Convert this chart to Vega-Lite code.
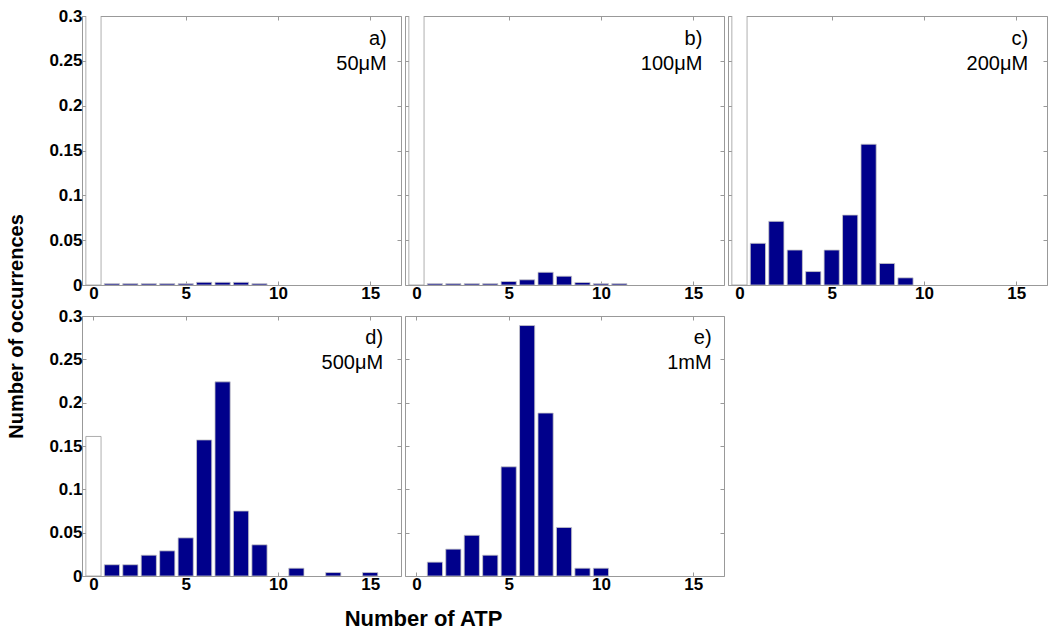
{
  "$schema": "https://vega.github.io/schema/vega-lite/v6.json",
  "background": "white",
  "padding": {"left": 5, "top": 6, "right": 2, "bottom": 5},
  "datasets": {
    "hist": [
      {"panel": "a", "atp": 0, "frac": 0.99},
      {"panel": "a", "atp": 1, "frac": 0.0015},
      {"panel": "a", "atp": 2, "frac": 0.0015},
      {"panel": "a", "atp": 3, "frac": 0.0015},
      {"panel": "a", "atp": 4, "frac": 0.0015},
      {"panel": "a", "atp": 5, "frac": 0.0015},
      {"panel": "a", "atp": 6, "frac": 0.003},
      {"panel": "a", "atp": 7, "frac": 0.003},
      {"panel": "a", "atp": 8, "frac": 0.003},
      {"panel": "a", "atp": 9, "frac": 0.0015},
      {"panel": "b", "atp": 0, "frac": 0.96},
      {"panel": "b", "atp": 1, "frac": 0.0015},
      {"panel": "b", "atp": 2, "frac": 0.0015},
      {"panel": "b", "atp": 3, "frac": 0.0015},
      {"panel": "b", "atp": 4, "frac": 0.0015},
      {"panel": "b", "atp": 5, "frac": 0.0039},
      {"panel": "b", "atp": 6, "frac": 0.0058},
      {"panel": "b", "atp": 7, "frac": 0.0142},
      {"panel": "b", "atp": 8, "frac": 0.0098},
      {"panel": "b", "atp": 9, "frac": 0.0028},
      {"panel": "b", "atp": 10, "frac": 0.0015},
      {"panel": "b", "atp": 11, "frac": 0.0015},
      {"panel": "c", "atp": 0, "frac": 0.51},
      {"panel": "c", "atp": 1, "frac": 0.0465},
      {"panel": "c", "atp": 2, "frac": 0.071},
      {"panel": "c", "atp": 3, "frac": 0.039},
      {"panel": "c", "atp": 4, "frac": 0.015},
      {"panel": "c", "atp": 5, "frac": 0.039},
      {"panel": "c", "atp": 6, "frac": 0.078},
      {"panel": "c", "atp": 7, "frac": 0.157},
      {"panel": "c", "atp": 8, "frac": 0.024},
      {"panel": "c", "atp": 9, "frac": 0.008},
      {"panel": "d", "atp": 0, "frac": 0.161},
      {"panel": "d", "atp": 1, "frac": 0.013},
      {"panel": "d", "atp": 2, "frac": 0.013},
      {"panel": "d", "atp": 3, "frac": 0.024},
      {"panel": "d", "atp": 4, "frac": 0.029},
      {"panel": "d", "atp": 5, "frac": 0.044},
      {"panel": "d", "atp": 6, "frac": 0.157},
      {"panel": "d", "atp": 7, "frac": 0.224},
      {"panel": "d", "atp": 8, "frac": 0.075},
      {"panel": "d", "atp": 9, "frac": 0.036},
      {"panel": "d", "atp": 11, "frac": 0.009},
      {"panel": "d", "atp": 13, "frac": 0.004},
      {"panel": "d", "atp": 15, "frac": 0.004},
      {"panel": "e", "atp": 1, "frac": 0.016},
      {"panel": "e", "atp": 2, "frac": 0.031},
      {"panel": "e", "atp": 3, "frac": 0.047},
      {"panel": "e", "atp": 4, "frac": 0.024},
      {"panel": "e", "atp": 5, "frac": 0.126},
      {"panel": "e", "atp": 6, "frac": 0.289},
      {"panel": "e", "atp": 7, "frac": 0.188},
      {"panel": "e", "atp": 8, "frac": 0.056},
      {"panel": "e", "atp": 9, "frac": 0.009},
      {"panel": "e", "atp": 10, "frac": 0.009}
    ],
    "labels": [
      {"panel": "a", "label": "a)\n50μM"},
      {"panel": "b", "label": "b)\n100μM"},
      {"panel": "c", "label": "c)\n200μM"},
      {"panel": "d", "label": "d)\n500μM"},
      {"panel": "e", "label": "e)\n1mM"}
    ]
  },
  "columns": 3,
  "spacing": {"row": 31, "column": 4},
  "bounds": "flush",
  "concat": [
    {
      "width": 319, "height": 269,
      "layer": [
        {
          "data": {"name": "hist"},
          "transform": [{"filter": "datum.panel === 'a'"}],
          "mark": {"type": "bar", "width": 15.2, "clip": true, "strokeWidth": 0.8},
          "encoding": {
            "x": {"field": "atp", "type": "quantitative", "scale": {"domain": [-0.35, 16.4], "nice": false, "zero": false}, "axis": {"orient": "bottom", "values": [0, 5, 10, 15], "title": null}},
            "y": {"field": "frac", "type": "quantitative", "scale": {"domain": [0, 0.3], "nice": false}, "axis": {"orient": "left", "values": [0, 0.05, 0.1, 0.15, 0.2, 0.25, 0.3], "format": "~g", "title": "Number of occurrences", "titleFontSize": 20, "titleX": -60, "titleY": 310, "titleAngle": -90, "titleAlign": "center", "titleBaseline": "alphabetic"}},
            "color": {"condition": {"test": "datum.atp === 0", "value": "white"}, "value": "#00008b"},
            "stroke": {"condition": {"test": "datum.atp === 0", "value": "#999999"}, "value": "#c8c8c8"}
          }
        },
        {
          "data": {"name": "labels"},
          "transform": [{"filter": "datum.panel === 'a'"}],
          "mark": {"type": "text", "align": "right", "baseline": "top", "lineBreak": "\n", "fontSize": 20, "lineHeight": 25, "font": "Liberation Sans", "color": "black"},
          "encoding": {
            "x": {"datum": 15.9, "type": "quantitative", "axis": {"orient": "top", "values": [0, 5, 10, 15], "labels": false, "title": null}},
            "y": {"datum": 0.286, "type": "quantitative", "axis": {"orient": "right", "values": [0, 0.05, 0.1, 0.15, 0.2, 0.25, 0.3], "labels": false, "title": null}},
            "text": {"field": "label"}
          }
        }
      ],
      "resolve": {"axis": {"x": "independent", "y": "independent"}}
    },
    {
      "width": 319, "height": 269,
      "layer": [
        {
          "data": {"name": "hist"},
          "transform": [{"filter": "datum.panel === 'b'"}],
          "mark": {"type": "bar", "width": 15.2, "clip": true, "strokeWidth": 0.8},
          "encoding": {
            "x": {"field": "atp", "type": "quantitative", "scale": {"domain": [-0.35, 16.4], "nice": false, "zero": false}, "axis": {"orient": "bottom", "values": [0, 5, 10, 15], "title": null}},
            "y": {"field": "frac", "type": "quantitative", "scale": {"domain": [0, 0.3], "nice": false}, "axis": {"orient": "left", "values": [0, 0.05, 0.1, 0.15, 0.2, 0.25, 0.3], "labels": false, "title": null}},
            "color": {"condition": {"test": "datum.atp === 0", "value": "white"}, "value": "#00008b"},
            "stroke": {"condition": {"test": "datum.atp === 0", "value": "#999999"}, "value": "#c8c8c8"}
          }
        },
        {
          "data": {"name": "labels"},
          "transform": [{"filter": "datum.panel === 'b'"}],
          "mark": {"type": "text", "align": "right", "baseline": "top", "lineBreak": "\n", "fontSize": 20, "lineHeight": 25, "font": "Liberation Sans", "color": "black"},
          "encoding": {
            "x": {"datum": 15.5, "type": "quantitative", "axis": {"orient": "top", "values": [0, 5, 10, 15], "labels": false, "title": null}},
            "y": {"datum": 0.286, "type": "quantitative", "axis": {"orient": "right", "values": [0, 0.05, 0.1, 0.15, 0.2, 0.25, 0.3], "labels": false, "title": null}},
            "text": {"field": "label"}
          }
        }
      ],
      "resolve": {"axis": {"x": "independent", "y": "independent"}}
    },
    {
      "width": 319, "height": 269,
      "layer": [
        {
          "data": {"name": "hist"},
          "transform": [{"filter": "datum.panel === 'c'"}],
          "mark": {"type": "bar", "width": 15.2, "clip": true, "strokeWidth": 0.8},
          "encoding": {
            "x": {"field": "atp", "type": "quantitative", "scale": {"domain": [-0.35, 16.4], "nice": false, "zero": false}, "axis": {"orient": "bottom", "values": [0, 5, 10, 15], "title": null}},
            "y": {"field": "frac", "type": "quantitative", "scale": {"domain": [0, 0.3], "nice": false}, "axis": {"orient": "left", "values": [0, 0.05, 0.1, 0.15, 0.2, 0.25, 0.3], "labels": false, "title": null}},
            "color": {"condition": {"test": "datum.atp === 0", "value": "white"}, "value": "#00008b"},
            "stroke": {"condition": {"test": "datum.atp === 0", "value": "#999999"}, "value": "#c8c8c8"}
          }
        },
        {
          "data": {"name": "labels"},
          "transform": [{"filter": "datum.panel === 'c'"}],
          "mark": {"type": "text", "align": "right", "baseline": "top", "lineBreak": "\n", "fontSize": 20, "lineHeight": 25, "font": "Liberation Sans", "color": "black"},
          "encoding": {
            "x": {"datum": 15.65, "type": "quantitative", "axis": {"orient": "top", "values": [0, 5, 10, 15], "labels": false, "title": null}},
            "y": {"datum": 0.286, "type": "quantitative", "axis": {"orient": "right", "values": [0, 0.05, 0.1, 0.15, 0.2, 0.25, 0.3], "labels": false, "title": null}},
            "text": {"field": "label"}
          }
        }
      ],
      "resolve": {"axis": {"x": "independent", "y": "independent"}}
    },
    {
      "width": 319, "height": 260,
      "layer": [
        {
          "data": {"name": "hist"},
          "transform": [{"filter": "datum.panel === 'd'"}],
          "mark": {"type": "bar", "width": 15.2, "clip": true, "strokeWidth": 0.8},
          "encoding": {
            "x": {"field": "atp", "type": "quantitative", "scale": {"domain": [-0.35, 16.4], "nice": false, "zero": false}, "axis": {"orient": "bottom", "values": [0, 5, 10, 15], "title": "Number of ATP", "titleFontSize": 22, "titleX": 341, "titleY": 49, "titleAlign": "center", "titleBaseline": "alphabetic"}},
            "y": {"field": "frac", "type": "quantitative", "scale": {"domain": [0, 0.3], "nice": false}, "axis": {"orient": "left", "values": [0, 0.05, 0.1, 0.15, 0.2, 0.25, 0.3], "format": "~g", "title": null}},
            "color": {"condition": {"test": "datum.atp === 0", "value": "white"}, "value": "#00008b"},
            "stroke": {"condition": {"test": "datum.atp === 0", "value": "#999999"}, "value": "#c8c8c8"}
          }
        },
        {
          "data": {"name": "labels"},
          "transform": [{"filter": "datum.panel === 'd'"}],
          "mark": {"type": "text", "align": "right", "baseline": "top", "lineBreak": "\n", "fontSize": 20, "lineHeight": 25, "font": "Liberation Sans", "color": "black"},
          "encoding": {
            "x": {"datum": 15.7, "type": "quantitative", "axis": {"orient": "top", "values": [0, 5, 10, 15], "labels": false, "title": null}},
            "y": {"datum": 0.286, "type": "quantitative", "axis": {"orient": "right", "values": [0, 0.05, 0.1, 0.15, 0.2, 0.25, 0.3], "labels": false, "title": null}},
            "text": {"field": "label"}
          }
        }
      ],
      "resolve": {"axis": {"x": "independent", "y": "independent"}}
    },
    {
      "width": 319, "height": 260,
      "layer": [
        {
          "data": {"name": "hist"},
          "transform": [{"filter": "datum.panel === 'e'"}],
          "mark": {"type": "bar", "width": 15.2, "clip": true, "strokeWidth": 0.8},
          "encoding": {
            "x": {"field": "atp", "type": "quantitative", "scale": {"domain": [-0.35, 16.4], "nice": false, "zero": false}, "axis": {"orient": "bottom", "values": [0, 5, 10, 15], "title": null}},
            "y": {"field": "frac", "type": "quantitative", "scale": {"domain": [0, 0.3], "nice": false}, "axis": {"orient": "left", "values": [0, 0.05, 0.1, 0.15, 0.2, 0.25, 0.3], "labels": false, "title": null}},
            "color": {"condition": {"test": "datum.atp === 0", "value": "white"}, "value": "#00008b"},
            "stroke": {"condition": {"test": "datum.atp === 0", "value": "#999999"}, "value": "#c8c8c8"}
          }
        },
        {
          "data": {"name": "labels"},
          "transform": [{"filter": "datum.panel === 'e'"}],
          "mark": {"type": "text", "align": "right", "baseline": "top", "lineBreak": "\n", "fontSize": 20, "lineHeight": 25, "font": "Liberation Sans", "color": "black"},
          "encoding": {
            "x": {"datum": 16.0, "type": "quantitative", "axis": {"orient": "top", "values": [0, 5, 10, 15], "labels": false, "title": null}},
            "y": {"datum": 0.286, "type": "quantitative", "axis": {"orient": "right", "values": [0, 0.05, 0.1, 0.15, 0.2, 0.25, 0.3], "labels": false, "title": null}},
            "text": {"field": "label"}
          }
        }
      ],
      "resolve": {"axis": {"x": "independent", "y": "independent"}}
    }
  ],
  "config": {
    "view": {"stroke": "#999999", "strokeWidth": 1},
    "axis": {
      "domain": false,
      "grid": false,
      "ticks": true,
      "tickSize": -4,
      "tickColor": "#999999",
      "labelFont": "Liberation Sans",
      "labelFontWeight": "bold",
      "labelFontSize": 17,
      "labelColor": "black",
      "labelPadding": 4,
      "titleFont": "Liberation Sans",
      "titleFontWeight": "bold",
      "titleFontSize": 20,
      "titleColor": "black"
    }
  }
}
